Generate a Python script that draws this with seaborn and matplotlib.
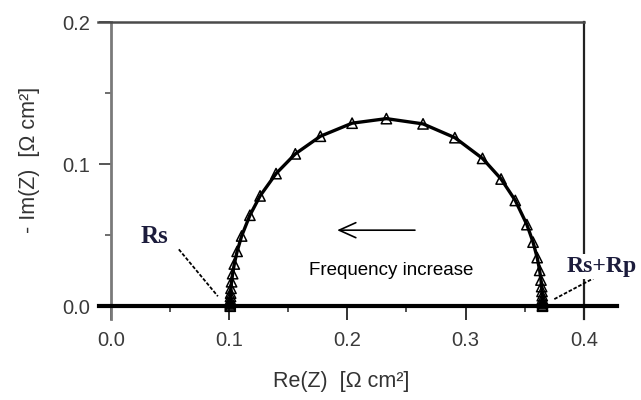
import matplotlib
matplotlib.use("Agg")
import matplotlib.pyplot as plt
import seaborn as sns
import pandas as pd
from matplotlib.ticker import MultipleLocator, FixedLocator

# ---- data (Nyquist plot) ----
re_z = [0.1010, 0.1010, 0.1010, 0.1010, 0.1011, 0.1012, 0.1013, 0.1016, 0.1021,
        0.1030, 0.1044, 0.1068, 0.1106, 0.1176, 0.1262, 0.1397, 0.1560, 0.1772,
        0.2040, 0.2330, 0.2640, 0.2909, 0.3143, 0.3300, 0.3420, 0.3518, 0.3570,
        0.3605, 0.3626, 0.3637, 0.3643, 0.3646, 0.3648, 0.3649, 0.3650, 0.3650,
        0.3650, 0.3650]
neg_im_z = [0.0000, 0.0009, 0.0018, 0.0030, 0.0046, 0.0069, 0.0092, 0.0126, 0.0172,
            0.0229, 0.0297, 0.0386, 0.0494, 0.0640, 0.0776, 0.0933, 0.1072, 0.1196,
            0.1288, 0.1320, 0.1283, 0.1186, 0.1040, 0.0895, 0.0744, 0.0574, 0.0451,
            0.0342, 0.0252, 0.0184, 0.0138, 0.0104, 0.0074, 0.0051, 0.0032, 0.0018,
            0.0007, 0.0000]
x_ticks = [0.0, 0.1, 0.2, 0.3, 0.4]
x_tick_labels = ["0.0", "0.1", "0.2", "0.3", "0.4"]
y_ticks = [0.0, 0.1, 0.2]
y_tick_labels = ["0.0", "0.1", "0.2"]
x_title = "Re(Z)  [\u03a9 cm\u00b2]"
y_title = "- Im(Z)  [\u03a9 cm\u00b2]"
rs_label = "Rs"
rsrp_label = "Rs+Rp"
arrow_label = "Frequency increase"

sns.set_theme(style="white")
plt.rcParams["font.family"] = ["Liberation Sans", "DejaVu Sans"]

fig = plt.figure(figsize=(6.41, 4.0), dpi=100)
ax = fig.add_axes([99 / 641, 1 - 319 / 400, 518 / 641, 297 / 400])

df = pd.DataFrame({"re": re_z, "im": neg_im_z})
sns.lineplot(data=df, x="re", y="im", sort=False, color="black", lw=2.4,
             ax=ax, zorder=3)
sns.scatterplot(data=df, x="re", y="im", marker="^", s=55, color="black",
                facecolor="none", edgecolor="black", linewidth=1.1, ax=ax, zorder=4)
ax.collections[-1].set_facecolor("none")

ax.set_xlim(-0.01, 0.428)
ax.set_ylim(-0.009, 0.2)

# spines / frame
sp = ax.spines
sp["bottom"].set_position(("data", 0))
sp["bottom"].set_color("black")
sp["bottom"].set_linewidth(3)
sp["left"].set_position(("data", 0))
sp["left"].set_color("#7a7a7a")
sp["left"].set_linewidth(2)
sp["top"].set_bounds(-0.011, 0.4)
sp["top"].set_color("#4a4a4a")
sp["top"].set_linewidth(1.8)
sp["right"].set_position(("data", 0.4))
sp["right"].set_bounds(-0.009, 0.2)
sp["right"].set_color("#222222")
sp["right"].set_linewidth(1.6)
for s in sp.values():
    s.set_visible(True)

ax.xaxis.set_major_locator(FixedLocator(x_ticks))
ax.set_xticklabels(x_tick_labels)
ax.xaxis.set_minor_locator(MultipleLocator(0.05))
ax.yaxis.set_major_locator(FixedLocator(y_ticks))
ax.set_yticklabels(y_tick_labels)
ax.yaxis.set_minor_locator(MultipleLocator(0.05))
ax.tick_params(axis="x", which="major", bottom=True, top=False, direction="out",
               length=10, width=1.4, color="#333333", labelsize=14.5,
               labelcolor="#3a3a3a", pad=8)
ax.tick_params(axis="x", which="minor", bottom=True, top=False, direction="out",
               length=4, width=1.2, color="#333333")
ax.tick_params(axis="y", which="major", left=True, right=False, direction="out",
               length=9, width=1.4, color="#555555", labelsize=14.5,
               labelcolor="#3a3a3a", pad=6)
ax.tick_params(axis="y", which="minor", left=True, right=False, direction="out",
               length=4, width=1.2, color="#555555")
ax.set_xlabel("")
ax.set_ylabel("")

fig.text(341 / 641, 1 - 381 / 400, x_title, ha="center", va="center",
         fontsize=15.5, color="#333333")
fig.text(30 / 641, 1 - 160 / 400, y_title, ha="center", va="center",
         rotation=90, fontsize=15.5, color="#333333")

# annotations
ax.text(0.037, 0.049, rs_label, ha="center", va="center", fontsize=18,
        fontweight="bold", family=["Liberation Serif", "DejaVu Serif"],
        color="#1c1c3c", zorder=6)
ax.plot([0.0575, 0.0905], [0.040, 0.007], color="black", lw=1.3,
        ls=(0, (2, 1)), zorder=5)
ax.text(0.415, 0.028, rsrp_label, ha="center", va="center", fontsize=17,
        fontweight="bold", family=["Liberation Serif", "DejaVu Serif"],
        color="#1c1c3c", zorder=6, clip_on=False,
        bbox=dict(facecolor="white", edgecolor="none", pad=1.5))
ax.plot([0.375, 0.409], [0.005, 0.020], color="black", lw=1.3,
        ls=(0, (2, 1)), zorder=5, clip_on=False)

ax.annotate("", xy=(0.189, 0.0535), xytext=(0.2595, 0.0535),
            arrowprops=dict(arrowstyle="->,head_length=1.0,head_width=0.45",
                            color="black", lw=1.2))
ax.text(0.237, 0.0254, arrow_label, ha="center", va="center", fontsize=13.5,
        color="black")

fig.savefig("out.png", dpi=100)
